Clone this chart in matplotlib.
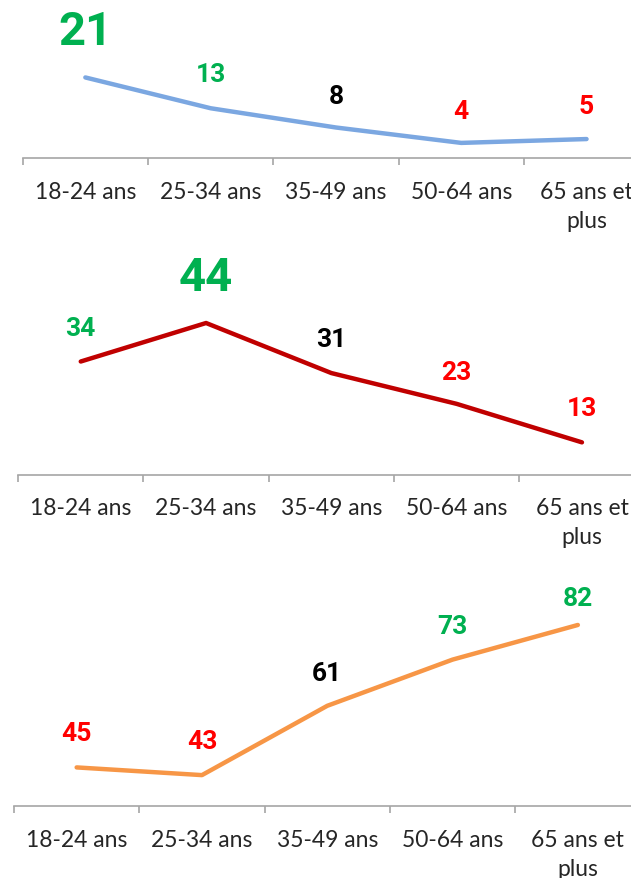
import numpy as np
import matplotlib
matplotlib.use('Agg')
import matplotlib.pyplot as plt

# donnees
ages = ['18-24 ans', '25-34 ans', '35-49 ans', '50-64 ans', '65 ans et\nplus']
serie_1 = [21, 13, 8, 4, 5]
serie_2 = [34, 44, 31, 23, 13]
serie_3 = [45, 43, 61, 73, 82]

GREEN = '#00B050'
RED = '#FF0000'
BLACK = '#000000'

W, H = 631, 879
PX_PER_UNIT = 3.85
STEP = 125.3

fig = plt.figure(figsize=(W / 100, H / 100), dpi=100)
fig.patch.set_facecolor('white')

tick_font = 'Lato'
val_font = ['Roboto', 'DejaVu Sans']


def panel(values, line_color, label_colors, big, offsets, axis_y, left, ymin, height):
    ax = fig.add_axes([left / W, 1 - axis_y / H, 5 * STEP / W, height / H])
    ax.set_xlim(-0.5, 4.5)
    ax.set_ylim(ymin, ymin + height / PX_PER_UNIT)
    x = np.arange(len(values))
    ax.plot(x, values, color=line_color, lw=3.2, solid_capstyle='round',
            solid_joinstyle='round', clip_on=False)

    for i in range(len(values)):
        size = 34 if i == big else 19
        ax.annotate(str(values[i]), (x[i], values[i]), xytext=(0, offsets[i]),
                    textcoords='offset pixels', ha='center', va='center',
                    fontsize=size, fontweight='bold', color=label_colors[i],
                    family=val_font, annotation_clip=False)

    for s in ['left', 'top', 'right']:
        ax.spines[s].set_visible(False)
    ax.spines['bottom'].set_color('#A6A6A6')
    ax.spines['bottom'].set_linewidth(1.2)
    ax.set_yticks([])
    ax.set_xticks(np.arange(-0.5, 5, 1))
    ax.set_xticklabels([])
    ax.tick_params(axis='x', which='major', length=5, width=1.2, color='#A6A6A6')
    ax.set_xticks(x, minor=True)
    ax.set_xticklabels(ages, minor=True, fontsize=16.5, family=tick_font,
                       color='#262626', linespacing=1.5)
    ax.tick_params(axis='x', which='minor', length=0, pad=16)
    ax.patch.set_alpha(0)
    return ax


panel(serie_1, '#7BA7E1', [GREEN, GREEN, BLACK, RED, RED], 0,
      [46, 34, 32, 32, 33], 159.3, 22.7, 0, 155)
panel(serie_2, '#C00000', [GREEN, GREEN, BLACK, RED, RED], 1,
      [34, 46, 34, 32, 34], 475.7, 18.1, 4.6, 250)
panel(serie_3, '#F79646', [RED, RED, BLACK, GREEN, GREEN], -1,
      [34, 34, 33, 34, 27], 807.3, 14, 34.9, 240)

fig.savefig('out.png', dpi=100)
